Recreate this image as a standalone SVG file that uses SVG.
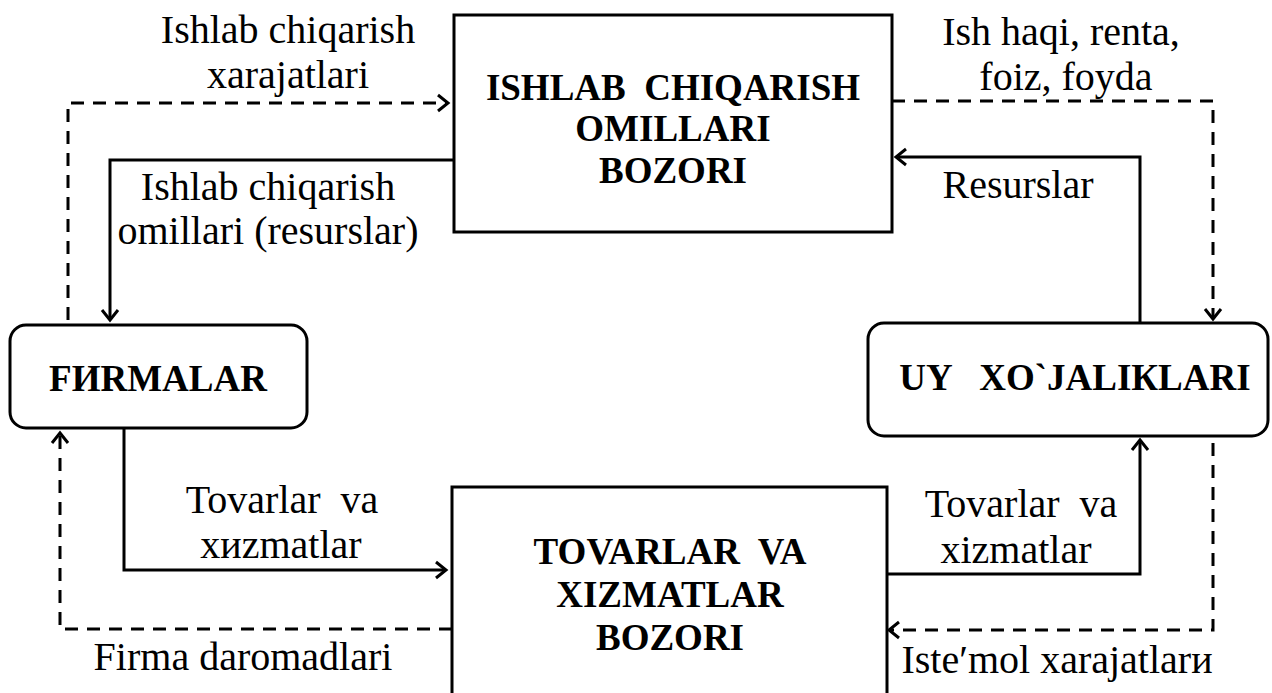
<svg xmlns="http://www.w3.org/2000/svg" width="1272" height="693" viewBox="0 0 1272 693">
<style>
.box{fill:#fff;stroke:#000;stroke-width:3}
.ln{fill:none;stroke:#000;stroke-width:3;marker-end:url(#ah)}
.ds{stroke-dasharray:13 9}
.t{font-family:"Liberation Serif","Times New Roman",serif;font-size:40px;fill:#000;text-anchor:middle}
.b{font-family:"Liberation Serif","Times New Roman",serif;font-size:37px;font-weight:bold;fill:#000;text-anchor:middle}
</style>
<defs>
<marker id="ah" markerUnits="userSpaceOnUse" markerWidth="20" markerHeight="20" refX="0" refY="0" viewBox="-12 -10 14 20" orient="auto" overflow="visible">
<path d="M-10,-8 L0,0 L-10,8" fill="none" stroke="#000" stroke-width="3"/>
</marker>
</defs>
<rect width="1272" height="693" fill="#fff"/>
<g id="connectors">
<path class="ln ds" d="M68,320 V103 H448"/>
<path class="ln" d="M454,160 H110 V320"/>
<path class="ln ds" d="M892,101 H1213 V319"/>
<path class="ln" d="M1140,323 V157 H896"/>
<path class="ln" d="M124,428 V570 H446"/>
<path class="ln ds" d="M452,629 H60 V433"/>
<path class="ln" d="M887,574 H1140 V440"/>
<path class="ln ds" d="M1213,443 V630 H889"/>
</g>
<g id="labels">
<text class="t" x="288" y="43">Ishlab chiqarish</text>
<text class="t" x="288" y="88">xarajatlari</text>
<text class="t" x="268" y="200">Ishlab chiqarish</text>
<text class="t" x="268" y="244">omillari (resurslar)</text>
<text class="t" x="1061" y="45">Ish haqi, renta,</text>
<text class="t" x="1066" y="90">foiz, foyda</text>
<text class="t" x="1018" y="198">Resurslar</text>
<text class="t" x="282" y="513" xml:space="preserve">Tovarlar  va</text>
<text class="t" x="281" y="558">xиzmatlar</text>
<text class="t" x="243" y="670">Firma daromadlari</text>
<text class="t" x="1021" y="517" xml:space="preserve">Tovarlar  va</text>
<text class="t" x="1016" y="563">xizmatlar</text>
<text class="t" x="1057" y="673">Iste′mol xarajatlarи</text>
</g>
<g id="ishlab-bozori">
<rect class="box" x="454" y="15" width="438" height="217"/>
<text class="b" x="673" y="100" xml:space="preserve">ISHLAB  CHIQARISH</text>
<text class="b" x="673" y="141">OMILLARI</text>
<text class="b" x="673" y="183">BOZORI</text>
</g>
<g id="tovarlar-bozori">
<rect class="box" x="452" y="487" width="435" height="230"/>
<text class="b" x="670" y="564" xml:space="preserve">TOVARLAR  VA</text>
<text class="b" x="670" y="607">XIZMATLAR</text>
<text class="b" x="670" y="650">BOZORI</text>
</g>
<g id="firmalar">
<rect class="box" x="10" y="325" width="297" height="103" rx="16"/>
<text class="b" x="158" y="391">FИRMALAR</text>
</g>
<g id="uy">
<rect class="box" x="868" y="323" width="400" height="113" rx="16"/>
<text class="b" x="1075" y="390" xml:space="preserve">UY   XO`JALIКLARI</text>
</g>
</svg>
